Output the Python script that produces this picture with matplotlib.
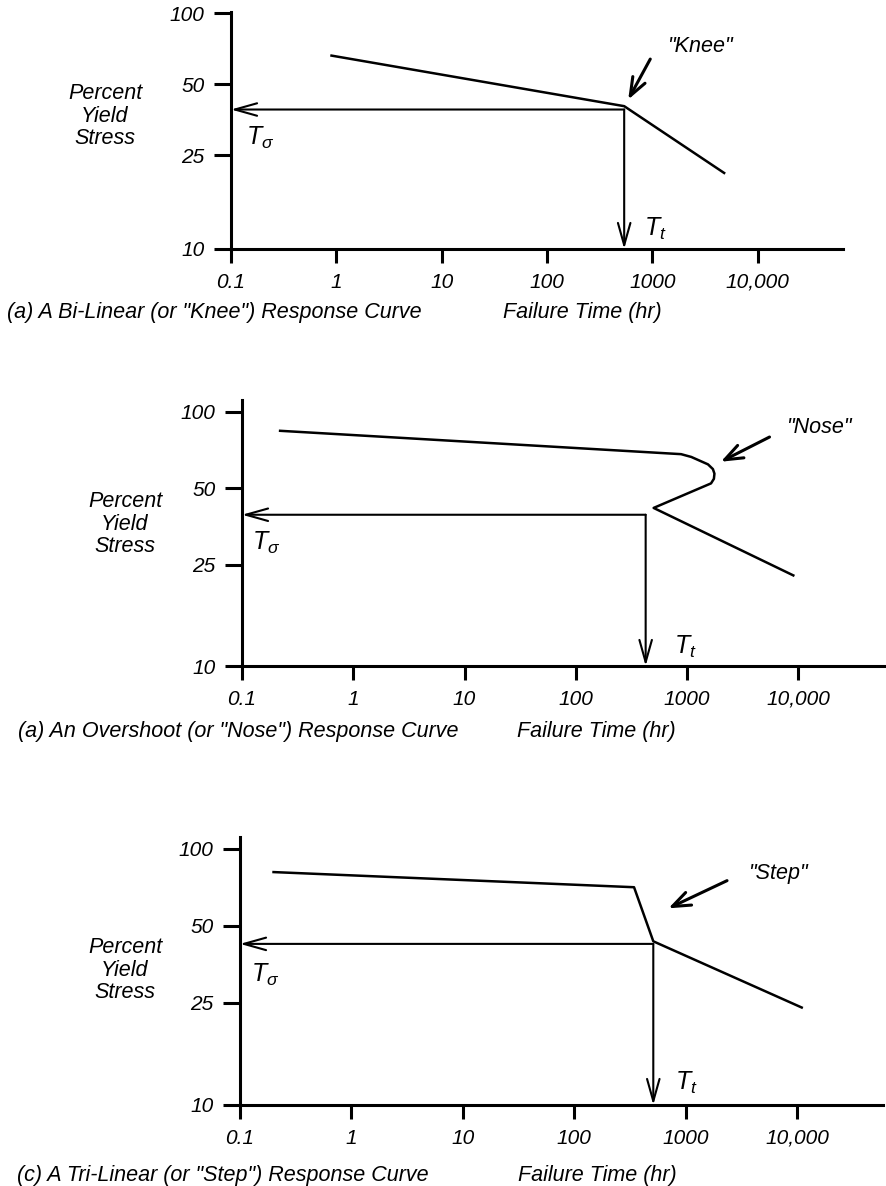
import numpy as np
import matplotlib
matplotlib.use('Agg')
import matplotlib.pyplot as plt
from matplotlib.ticker import NullLocator

plt.rcParams['font.family'] = ['Liberation Sans', 'DejaVu Sans']
plt.rcParams['font.style'] = 'italic'
plt.rcParams['mathtext.fontset'] = 'custom'
plt.rcParams['mathtext.it'] = 'Liberation Sans:italic'
plt.rcParams['mathtext.rm'] = 'Liberation Sans:italic'

# axis ticks shared by the three panels
x_ticks = [0.1, 1, 10, 100, 1000, 10000]
x_labels = ['0.1', '1', '10', '100', '1000', '10,000']
y_ticks = [10, 25, 50, 100]
y_labels = ['10', '25', '50', '100']

# (a) bi-linear "knee" curve
knee_x = [0.9, 540, 4800]
knee_y = [66, 40.3, 21]
knee_tt = 540      # failure time at transition
knee_ts = 39       # stress level at transition

# (b) overshoot "nose" curve
nose_x = [0.22, 882, 1090, 1540, 1705, 1760, 1740, 1640, 500, 9000]
nose_y = [84, 68, 66.3, 62, 59.4, 57, 54.4, 52.2, 41.8, 22.7]
nose_tt = 424
nose_ts = 39.3

# (c) tri-linear "step" curve
step_x = [0.2, 344, 512, 11000]
step_y = [81, 70.7, 43.5, 24]
step_tt = 512
step_ts = 42.5

captions = ['(a) A Bi-Linear (or "Knee") Response Curve',
            '(a) An Overshoot (or "Nose") Response Curve',
            '(c) A Tri-Linear (or "Step") Response Curve']
callouts = ['"Knee"', '"Nose"', '"Step"']

W, H = 887, 1186
fig = plt.figure(figsize=(W / 100, H / 100), dpi=100)


def px(x, y):
    return x / W, 1 - y / H


panels = [
    dict(rect=(231, 249, 843, 12), xlim=(0.1, 64500), ylim=(10, 101),
         xs=knee_x, ys=knee_y, tt=knee_tt, ts=knee_ts,
         text_xy=(2820, 72), tail=(955, 63.8), head=(590, 43),
         tsig=(0.14, 29.7), ttl=(826, 12.2),
         ylab=(105, 116), cap=(7, 312), fail=(503, 312)),
    dict(rect=(242, 666, 885, 400), xlim=(0.1, 60000), ylim=(10, 111),
         xs=nose_x, ys=nose_y, tt=nose_tt, ts=nose_ts,
         text_xy=(15400, 86.5), tail=(5500, 79.4), head=(2010, 63.5),
         tsig=(0.123, 30.5), ttl=(762, 11.9),
         ylab=(125, 524), cap=(18, 731), fail=(517, 731)),
    dict(rect=(240, 1105, 883, 837), xlim=(0.1, 59000), ylim=(10, 111),
         xs=step_x, ys=step_y, tt=step_tt, ts=step_ts,
         text_xy=(6770, 80), tail=(2350, 75), head=(700, 58.5),
         tsig=(0.126, 32.1), ttl=(810, 12.2),
         ylab=(125, 970), cap=(17, 1175), fail=(518, 1175)),
]

arrow_style = '->,head_length=1.6,head_width=0.45'

for i, p in enumerate(panels):
    l, b, r, t = p['rect']
    ax = fig.add_axes([l / W, 1 - b / H, (r - l) / W, (b - t) / H])
    ax.set_xscale('log')
    ax.set_yscale('log')
    ax.set_xlim(*p['xlim'])
    ax.set_ylim(*p['ylim'])
    for s in ['top', 'right']:
        ax.spines[s].set_visible(False)
    for s in ['left', 'bottom']:
        ax.spines[s].set_linewidth(2.2)
    ax.set_xticks(x_ticks, labels=x_labels)
    ax.set_yticks(y_ticks, labels=y_labels)
    ax.xaxis.set_minor_locator(NullLocator())
    ax.yaxis.set_minor_locator(NullLocator())
    ax.tick_params(axis='x', length=10, width=2.2, pad=7, labelsize=15)
    ax.tick_params(axis='y', length=12, width=2.2, pad=7, labelsize=15)
    ax.patch.set_visible(False)

    ax.plot(p['xs'], p['ys'], color='black', lw=1.8, clip_on=False,
            solid_joinstyle='round')

    # T_sigma arrow to the stress axis, T_t arrow to the time axis
    ax.annotate('', xy=(0.1, p['ts']), xytext=(p['tt'], p['ts']),
                arrowprops=dict(arrowstyle=arrow_style, lw=1.5, color='black',
                                shrinkA=0, shrinkB=0, mutation_scale=10),
                annotation_clip=False)
    ax.annotate('', xy=(p['tt'], 10), xytext=(p['tt'], p['ts']),
                arrowprops=dict(arrowstyle=arrow_style, lw=1.5, color='black',
                                shrinkA=0, shrinkB=0, mutation_scale=10),
                annotation_clip=False)
    ax.text(p['tsig'][0], p['tsig'][1], r'$T_\sigma$', fontsize=18,
            ha='left', va='center')
    ax.text(p['ttl'][0], p['ttl'][1], r'$T_t$', fontsize=18,
            ha='left', va='center')

    # callout
    ax.text(p['text_xy'][0], p['text_xy'][1], callouts[i], fontsize=15.5,
            ha='center', va='center')
    ax.annotate('', xy=p['head'], xytext=p['tail'],
                arrowprops=dict(arrowstyle='->,head_length=1.3,head_width=0.5',
                                lw=2.2, color='black', shrinkA=0, shrinkB=0,
                                mutation_scale=10),
                annotation_clip=False)

    fig.text(*px(*p['ylab']), 'Percent\nYield\nStress', fontsize=15.5,
             ha='center', va='center', multialignment='center',
             linespacing=1.1)
    fig.text(*px(*p['cap']), captions[i], fontsize=15.5, ha='left', va='center')
    fig.text(*px(*p['fail']), 'Failure Time (hr)', fontsize=15.5,
             ha='left', va='center')

fig.savefig('out.png', dpi=100)
